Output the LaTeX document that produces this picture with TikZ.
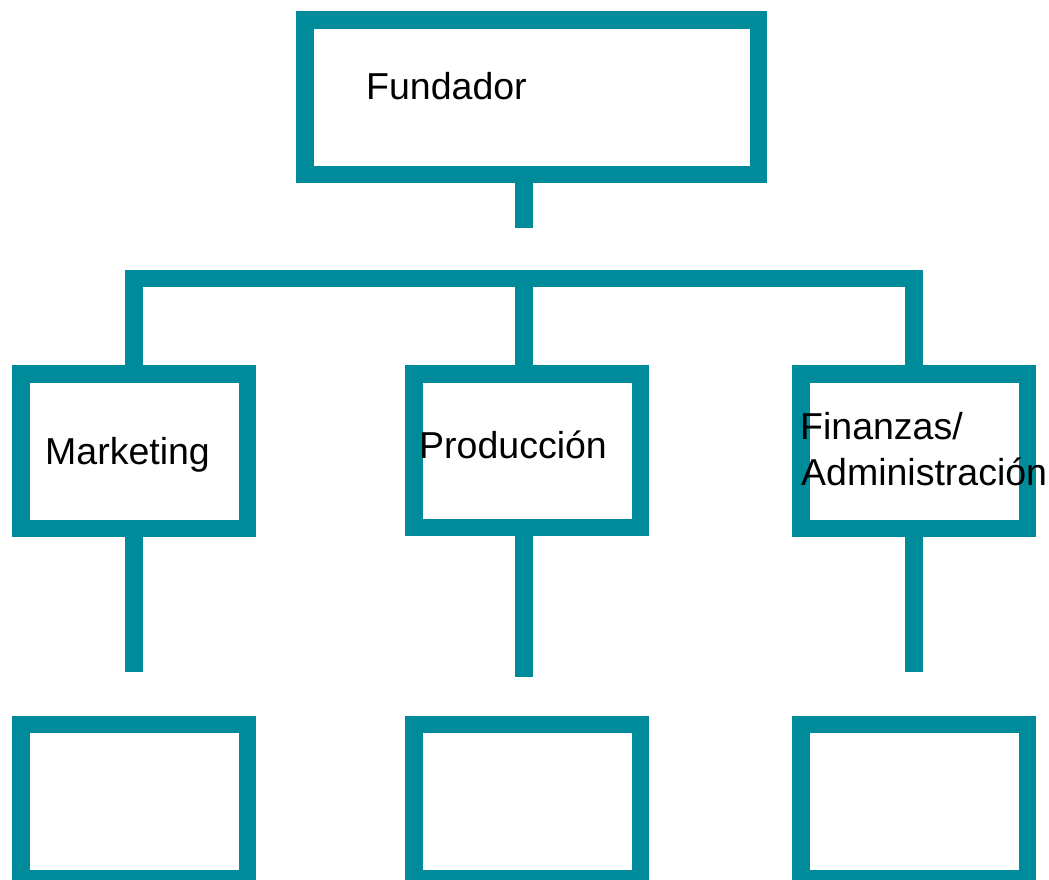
\documentclass[tikz,border=0pt]{standalone}
\usepackage{fontspec}
\setmainfont{Liberation Sans}
\definecolor{orgteal}{RGB}{0,139,155}
\tikzset{
  orgbox/.style={draw=orgteal, line width=17.5pt, fill=white, inner sep=0pt, minimum width=226.5pt, minimum height=154.5pt, rectangle},
  conn/.style={draw=orgteal, line width=17.5pt, line join=miter},
  lbl/.style={inner sep=0pt, anchor=base west, font=\fontsize{37.5}{44}\selectfont, text=black}
}
\begin{document}
\begin{tikzpicture}[x=1pt,y=-1pt]
\useasboundingbox (0,0) rectangle (1049,879);
% boxes
\node[orgbox, minimum width=453.5pt] (fund) at (531.5,97) {};
\node[orgbox] (mkt) at (134,451) {};
\node[orgbox, minimum height=153.5pt] (prod) at (527,450.5) {};
\node[orgbox] (fin) at (914,451) {};
\node[orgbox] (b1) at (134,801.5) {};
\node[orgbox] (b2) at (527,801.5) {};
\node[orgbox] (b3) at (914,801.5) {};
% coordinates
\coordinate (fstub) at (524,228);
\coordinate (barL) at (134,278.5);
\coordinate (barM) at (524,278.5);
\coordinate (barR) at (914,278.5);
\coordinate (s1) at (134,672);
\coordinate (s2) at (524,677);
\coordinate (s3) at (914,672);
% connectors
\draw[conn] (fund.south -| fstub) -- (fstub);
\draw[conn] (mkt.north) -- (barL) -- (barR) -- (fin.north);
\draw[conn] (barM) -- (prod.north -| barM);
\draw[conn] (mkt.south) -- (s1);
\draw[conn] (prod.south -| s2) -- (s2);
\draw[conn] (fin.south) -- (s3);
% labels
\node[lbl] (tfund) at (366,99) {Fundador};
\node[lbl] (tmkt) at (45,464) {Marketing};
\node[lbl] (tprod) at (419,458) {Producción};
\node[lbl] (tfin1) at (800,439) {Finanzas/};
\node[lbl] (tfin2) at (801,485) {Administración};
\end{tikzpicture}
\end{document}
